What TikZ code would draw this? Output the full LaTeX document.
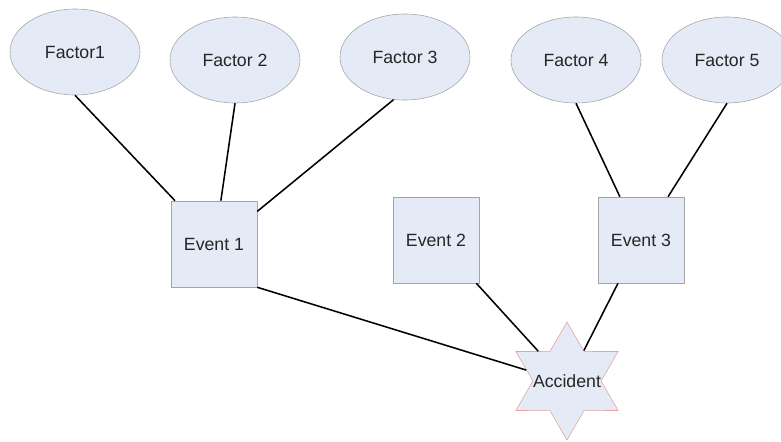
\documentclass[tikz,border=0pt]{standalone}
\usepackage{fontspec}
\setmainfont{Liberation Sans}
\usetikzlibrary{shapes.geometric}

\definecolor{nodefill}{HTML}{E4EAF6}
\definecolor{nodeline}{HTML}{A4A4A4}
\definecolor{starline}{HTML}{E8A0A0}

\begin{document}
\begin{tikzpicture}[x=0.025cm, y=-0.025cm,
  every node/.style={font=\fontsize{12.6}{14}\selectfont, text=black!85},
  factor/.style={ellipse, draw=nodeline, fill=nodefill, minimum width=3.25cm, minimum height=2.15cm, inner sep=0pt},
  event/.style={rectangle, draw=nodeline, fill=nodefill, minimum size=2.15cm, inner sep=0pt},
  accident/.style={star, star points=6, star point ratio=1.73, draw=starline, fill=nodefill, minimum size=2.95cm, inner sep=0pt},
  link/.style={line width=1.1pt}]

\useasboundingbox (0,0) rectangle (781,441);

% factors
\node[factor] (f1) at (75,52) {Factor1};
\node[factor] (f2) at (235,60) {Factor 2};
\node[factor] (f3) at (405,57) {Factor 3};
\node[factor] (f4) at (576,60) {Factor 4};
\node[factor] (f5) at (727,60) {Factor 5};

% events
\node[event] (e1) at (214,244) {Event 1};
\node[event] (e2) at (436,240) {Event 2};
\node[event] (e3) at (641,240) {Event 3};

\node[accident, label=center:Accident] (acc) at (567,381) {};

\draw[link] (f1.south) -- (e1.132);
\draw[link] (f2.south) -- (e1.81);
\draw[link] (f3.255) -- (e1.37);
\draw[link] (f4.south) -- (e3.116);
\draw[link] (f5.south) -- (e3.58);
\draw[link] (e1.south east) -- (acc.165);
\draw[link] (e2.313) -- (acc.134);
\draw[link] (e3.242) -- (acc.61);
\end{tikzpicture}
\end{document}
